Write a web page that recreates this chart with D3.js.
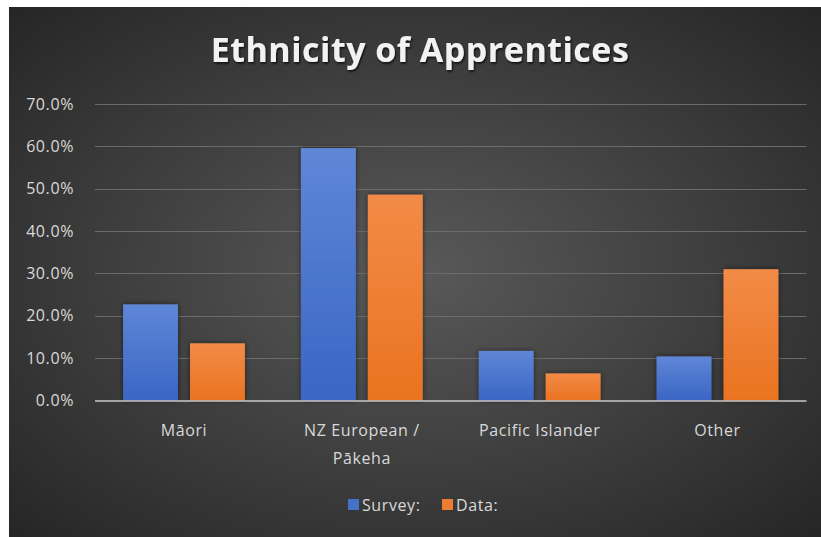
<!DOCTYPE html>
<html>
<head>
<meta charset="utf-8">
<script src="https://cdn.jsdelivr.net/npm/d3@7"></script>
<style>
  body { margin: 0; background: #ffffff; }
  svg { display: block; }
</style>
</head>
<body>
<div id="chart"></div>
<script>
// data
var categories = ["Māori", "NZ European / Pākeha", "Pacific Islander", "Other"];
var seriesNames = ["Survey:", "Data:"];
var surveyValues = [0.227, 0.596, 0.117, 0.104];
var dataValues = [0.135, 0.486, 0.064, 0.310];
var yTicks = [0, 0.1, 0.2, 0.3, 0.4, 0.5, 0.6, 0.7];

var W = 821, H = 537;
var margin = {top: 104, right: 14, bottom: 136, left: 95};
var width = 806.5 - margin.left,
    height = 400.5 - margin.top;

var svg = d3.select("#chart").append("svg")
    .attr("width", W)
    .attr("height", H);

var defs = svg.append("defs");

// dark radial background like the excel style
var bg = defs.append("radialGradient")
    .attr("id", "bgGrad")
    .attr("cx", "50%").attr("cy", "50%").attr("r", "70%");
bg.append("stop").attr("offset", "0%").attr("stop-color", "#595959");
bg.append("stop").attr("offset", "100%").attr("stop-color", "#262626");

var blueGrad = defs.append("linearGradient")
    .attr("id", "blueGrad").attr("x1", 0).attr("y1", 0).attr("x2", 0).attr("y2", 1);
blueGrad.append("stop").attr("offset", "0%").attr("stop-color", "#5f86d7");
blueGrad.append("stop").attr("offset", "100%").attr("stop-color", "#3a66c4");

var orangeGrad = defs.append("linearGradient")
    .attr("id", "orangeGrad").attr("x1", 0).attr("y1", 0).attr("x2", 0).attr("y2", 1);
orangeGrad.append("stop").attr("offset", "0%").attr("stop-color", "#f28b47");
orangeGrad.append("stop").attr("offset", "100%").attr("stop-color", "#ea7320");

var shadow = defs.append("filter").attr("id", "shadow")
    .attr("x", "-20%").attr("y", "-20%").attr("width", "140%").attr("height", "140%");
shadow.append("feDropShadow")
    .attr("dx", 0).attr("dy", 0).attr("stdDeviation", 2.5)
    .attr("flood-color", "#000").attr("flood-opacity", 0.55);

var textShadow = defs.append("filter").attr("id", "textShadow");
textShadow.append("feDropShadow")
    .attr("dx", 1).attr("dy", 1.5).attr("stdDeviation", 1.2)
    .attr("flood-color", "#000").attr("flood-opacity", 0.8);

svg.append("rect")
    .attr("x", 9).attr("y", 7)
    .attr("width", W - 9).attr("height", H - 7)
    .attr("fill", "url(#bgGrad)");

var g = svg.append("g")
    .attr("transform", "translate(" + margin.left + "," + margin.top + ")");

var x0 = d3.scaleBand()
    .domain(categories)
    .range([0, width])
    .paddingInner(0.315)
    .paddingOuter(0.158);

var x1 = d3.scaleBand()
    .domain(seriesNames)
    .range([0, x0.bandwidth()])
    .paddingInner(0.18);

var y = d3.scaleLinear()
    .domain([0, 0.7])
    .range([height, 0]);

var labelFont = "'Open Sans', sans-serif";

// gridlines
g.append("g")
    .selectAll("line")
    .data(yTicks.slice(1))
    .enter().append("line")
    .attr("x1", 0).attr("x2", width)
    .attr("y1", function(d) { return Math.round(y(d)) + 0.5; })
    .attr("y2", function(d) { return Math.round(y(d)) + 0.5; })
    .attr("stroke", "#6b6b6b")
    .attr("stroke-width", 1);

// y axis
var yAxis = g.append("g")
    .call(d3.axisLeft(y).tickValues(yTicks).tickFormat(d3.format(".1%")).tickSize(0).tickPadding(21));
yAxis.select(".domain").remove();
yAxis.selectAll("text")
    .attr("fill", "#d9d9d9")
    .attr("font-family", labelFont)
    .attr("font-size", "16px")
    .attr("letter-spacing", "0.6px");

var rows = categories.map(function(c, i) {
    return {cat: c, values: [
        {key: seriesNames[0], v: surveyValues[i], fill: "url(#blueGrad)"},
        {key: seriesNames[1], v: dataValues[i], fill: "url(#orangeGrad)"}
    ]};
});

g.append("g")
    .selectAll("g")
    .data(rows)
    .enter().append("g")
    .attr("transform", function(d) { return "translate(" + x0(d.cat) + ",0)"; })
    .selectAll("rect")
    .data(function(d) { return d.values; })
    .enter().append("rect")
    .attr("x", function(d) { return x1(d.key); })
    .attr("y", function(d) { return y(d.v); })
    .attr("width", x1.bandwidth())
    .attr("height", function(d) { return height - y(d.v); })
    .attr("fill", function(d) { return d.fill; })
    .attr("filter", "url(#shadow)");

// baseline
g.append("line")
    .attr("x1", 0).attr("x2", width)
    .attr("y1", height + 0.5).attr("y2", height + 0.5)
    .attr("stroke", "#c8c8c8")
    .attr("stroke-width", 1.5);

// category labels
var xAxis = g.append("g")
    .attr("transform", "translate(0," + height + ")")
    .call(d3.axisBottom(x0).tickSize(0).tickPadding(0));
xAxis.select(".domain").remove();
xAxis.selectAll("text").remove();
xAxis.selectAll(".tick").each(function(d) {
    var t = d3.select(this).append("text")
        .attr("fill", "#d9d9d9")
        .attr("font-family", labelFont)
        .attr("font-size", "16px")
        .attr("letter-spacing", "0.6px")
        .attr("text-anchor", "middle");
    var lines = d === "NZ European / Pākeha" ? ["NZ European /", "Pākeha"] : [d];
    lines.forEach(function(l, i) {
        t.append("tspan").attr("x", 0).attr("y", 35 + i * 28).text(l);
    });
});

// title
svg.append("text")
    .attr("x", 420)
    .attr("y", 62)
    .attr("text-anchor", "middle")
    .attr("fill", "#f2f2f2")
    .attr("font-family", labelFont)
    .attr("font-weight", "bold")
    .attr("font-size", "34px")
    .attr("letter-spacing", "0.5px")
    .attr("filter", "url(#textShadow)")
    .text("Ethnicity of Apprentices");

// legend
var legendColors = ["#4472c4", "#ed7d31"];
var legendX = [348, 442];
var legend = svg.append("g");
legend.selectAll("rect")
    .data(seriesNames)
    .enter().append("rect")
    .attr("x", function(d, i) { return legendX[i]; })
    .attr("y", 499)
    .attr("width", 11).attr("height", 11)
    .attr("fill", function(d, i) { return legendColors[i]; });
legend.selectAll("text")
    .data(seriesNames)
    .enter().append("text")
    .attr("x", function(d, i) { return legendX[i] + 14; })
    .attr("y", 511)
    .attr("fill", "#d9d9d9")
    .attr("font-family", labelFont)
    .attr("font-size", "16px")
    .attr("letter-spacing", "0.6px")
    .text(function(d) { return d; });
</script>
</body>
</html>
